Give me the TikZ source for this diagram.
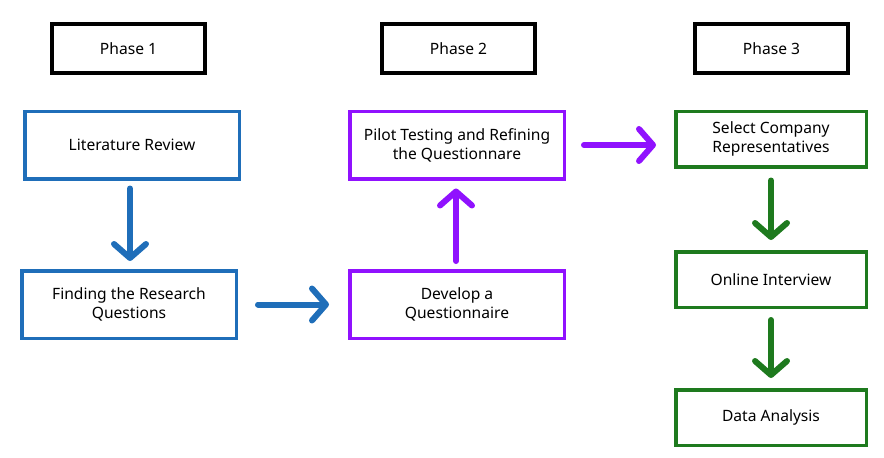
\documentclass[tikz,border=0pt]{standalone}
\usepackage{fontspec}
\setmainfont{Noto Sans}
\usetikzlibrary{arrows.meta}
\definecolor{stepblue}{HTML}{1F6EB9}
\definecolor{steppurple}{HTML}{9012FE}
\definecolor{stepgreen}{HTML}{1E7A1E}
\tikzset{
every node/.style={rectangle, draw, align=center, font=\fontsize{15.6}{19}\selectfont, inner sep=0pt},
phasebox/.style={line width=4pt, minimum width=153pt, minimum height=49pt},
bluebox/.style={draw=stepblue, line width=3.5pt, minimum width=214.5pt, minimum height=67.5pt},
purplebox/.style={draw=steppurple, line width=3.5pt, minimum width=214.5pt, minimum height=67.5pt},
greenbox/.style={draw=stepgreen, line width=3.5pt, minimum width=190.5pt, minimum height=55.5pt},
flow/.style={line width=6pt, line cap=round, -{Straight Barb[round, length=14pt, width=32pt]}}
}

\begin{document}
\begin{tikzpicture}[x=1pt,y=-1pt]
\useasboundingbox (0,0) rectangle (884,458);
\node[phasebox] (ph1) at (128.5,48.5) {Phase 1};
\node[phasebox] (ph2) at (458.5,48.5) {Phase 2};
\node[phasebox] (ph3) at (771.5,48.5) {Phase 3};

\node[bluebox] (lit) at (132,145) {Literature Review};
\node[bluebox] (find) at (129,304.5) {Finding the Research\\Questions};
\node[purplebox] (dev) at (457,304.5) {Develop a\\Questionnaire};
\node[purplebox] (pilot) at (457,145) {Pilot Testing and Refining\\the Questionnare};
\node[greenbox] (sel) at (771,139) {Select Company\\Representatives};
\node[greenbox] (online) at (771,279.5) {Online Interview};
\node[greenbox] (data) at (771,417.5) {Data Analysis};

\draw[flow, draw=stepblue, shorten <=8pt, shorten >=8pt] (lit.south -| 130,0) -- (find.north -| 130,0);
\draw[flow, draw=stepblue, shorten <=20pt, shorten >=19pt] (find.east) -- (dev.west);
\draw[flow, draw=steppurple, shorten <=8pt, shorten >=8pt] (dev.north -| 456,0) -- (pilot.south -| 456,0);
\draw[flow, draw=steppurple, shorten <=18pt, shorten >=18pt] (pilot.east) -- (pilot.east -| sel.west);
\draw[flow, draw=stepgreen, shorten <=12pt, shorten >=10pt] (sel.south) -- (online.north);
\draw[flow, draw=stepgreen, shorten <=11pt, shorten >=10pt] (online.south) -- (data.north);
\end{tikzpicture}
\end{document}
